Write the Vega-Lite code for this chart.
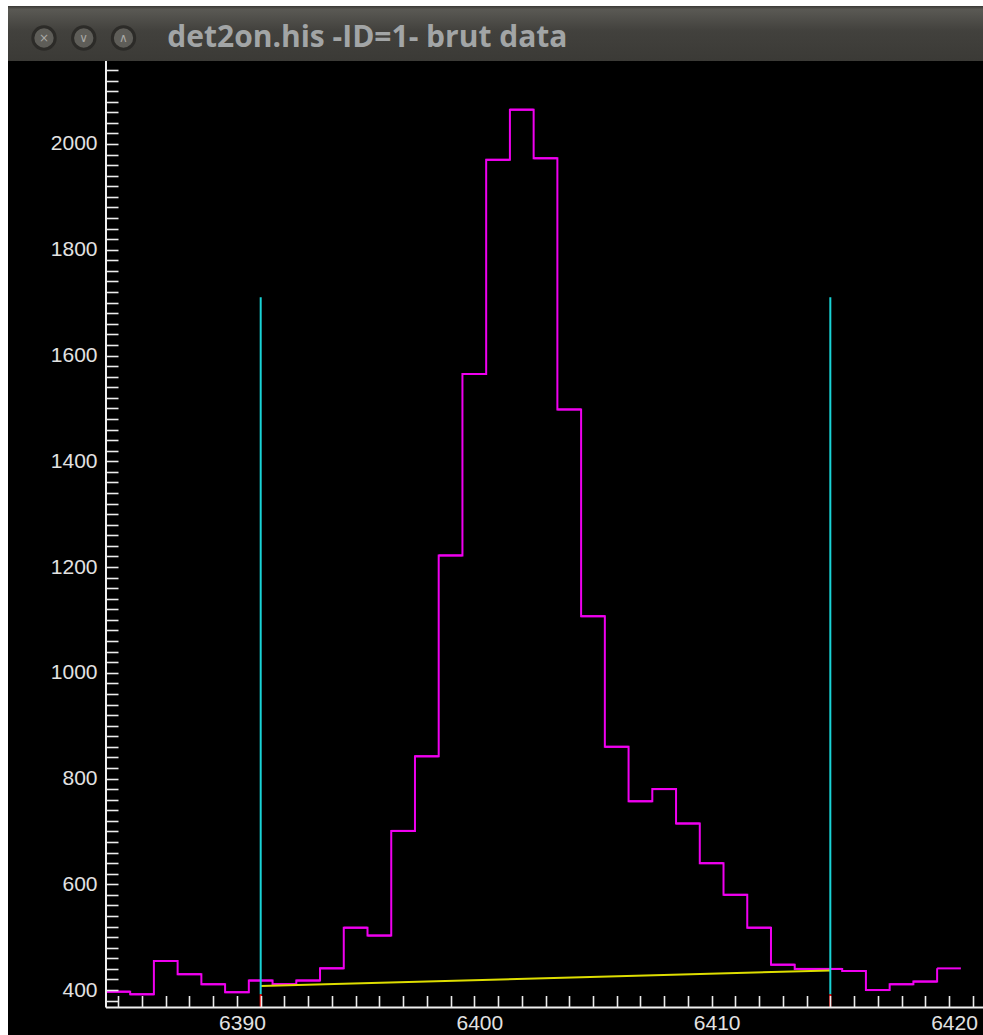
{
  "$schema": "https://vega.github.io/schema/vega-lite/v6.json",
  "background": "white",
  "padding": {"left": 8, "top": 6, "right": 0, "bottom": 0},
  "spacing": 0,
  "bounds": "flush",
  "config": {"view": {"stroke": null}, "concat": {"spacing": 0}},
  "datasets": {
    "hist": [
      {"lo": 6384.5, "hi": 6385.5, "counts": 397},
      {"lo": 6385.5, "hi": 6386.5, "counts": 392},
      {"lo": 6386.5, "hi": 6387.5, "counts": 455},
      {"lo": 6387.5, "hi": 6388.5, "counts": 430},
      {"lo": 6388.5, "hi": 6389.5, "counts": 411},
      {"lo": 6389.5, "hi": 6390.5, "counts": 396},
      {"lo": 6390.5, "hi": 6391.5, "counts": 418},
      {"lo": 6391.5, "hi": 6392.5, "counts": 411},
      {"lo": 6392.5, "hi": 6393.5, "counts": 418},
      {"lo": 6393.5, "hi": 6394.5, "counts": 441},
      {"lo": 6394.5, "hi": 6395.5, "counts": 518},
      {"lo": 6395.5, "hi": 6396.5, "counts": 503},
      {"lo": 6396.5, "hi": 6397.5, "counts": 701},
      {"lo": 6397.5, "hi": 6398.5, "counts": 842},
      {"lo": 6398.5, "hi": 6399.5, "counts": 1222},
      {"lo": 6399.5, "hi": 6400.5, "counts": 1565},
      {"lo": 6400.5, "hi": 6401.5, "counts": 1970},
      {"lo": 6401.5, "hi": 6402.5, "counts": 2065},
      {"lo": 6402.5, "hi": 6403.5, "counts": 1973},
      {"lo": 6403.5, "hi": 6404.5, "counts": 1498},
      {"lo": 6404.5, "hi": 6405.5, "counts": 1107},
      {"lo": 6405.5, "hi": 6406.5, "counts": 860},
      {"lo": 6406.5, "hi": 6407.5, "counts": 757},
      {"lo": 6407.5, "hi": 6408.5, "counts": 780},
      {"lo": 6408.5, "hi": 6409.5, "counts": 715},
      {"lo": 6409.5, "hi": 6410.5, "counts": 640},
      {"lo": 6410.5, "hi": 6411.5, "counts": 580},
      {"lo": 6411.5, "hi": 6412.5, "counts": 518},
      {"lo": 6412.5, "hi": 6413.5, "counts": 448},
      {"lo": 6413.5, "hi": 6414.5, "counts": 440},
      {"lo": 6414.5, "hi": 6415.5, "counts": 440},
      {"lo": 6415.5, "hi": 6416.5, "counts": 436},
      {"lo": 6416.5, "hi": 6417.5, "counts": 400},
      {"lo": 6417.5, "hi": 6418.5, "counts": 411},
      {"lo": 6418.5, "hi": 6419.5, "counts": 416},
      {"lo": 6419.5, "hi": 6420.5, "counts": 441}
    ],
    "background": [
      {"ch": 6391, "bg": 407.6},
      {"ch": 6415, "bg": 437.2}
    ],
    "markers": [
      {"ch": 6391, "top": 1710, "foot": 392},
      {"ch": 6415, "top": 1710, "foot": 392}
    ],
    "titlebar": [
      {"item": "close", "glyph": "×"},
      {"item": "minimize", "glyph": "∨"},
      {"item": "maximize", "glyph": "∧"},
      {"item": "title", "glyph": "det2on.his -ID=1- brut data"}
    ]
  },
  "vconcat": [
    {
      "width": 975,
      "height": 55,
      "view": {"stroke": null},
      "layer": [
        {
          "data": {"values": [{"part": "titlebar"}]},
          "mark": {
            "type": "rect",
            "color": {
              "gradient": "linear",
              "x1": 0, "y1": 0, "x2": 0, "y2": 1,
              "stops": [
                {"offset": 0, "color": "#3a3935"},
                {"offset": 0.06, "color": "#5a5954"},
                {"offset": 0.45, "color": "#42413d"},
                {"offset": 1, "color": "#3b3a36"}
              ]
            }
          }
        },
        {
          "data": {"name": "titlebar"},
          "transform": [{"filter": "datum.item !== 'title'"}],
          "mark": {"type": "point", "shape": "circle", "filled": true, "size": 500, "fill": "#5e5d58", "stroke": "#2c2b28", "strokeWidth": 3, "opacity": 1},
          "encoding": {
            "x": {"field": "item", "type": "nominal", "scale": {"type": "point", "domain": ["close", "minimize", "maximize", "title"], "range": [36, 155.25], "padding": 0}, "axis": null},
            "y": {"datum": 23, "type": "quantitative", "scale": {"domain": [0, 55]}, "axis": null}
          }
        },
        {
          "data": {"name": "titlebar"},
          "transform": [{"filter": "datum.item !== 'title'"}],
          "mark": {"type": "text", "font": "DejaVu Sans", "fontSize": 12, "color": "#a8a8a4", "align": "center", "baseline": "middle"},
          "encoding": {
            "x": {"field": "item", "type": "nominal", "axis": null},
            "y": {"datum": 23, "type": "quantitative", "axis": null},
            "text": {"field": "glyph"}
          }
        },
        {
          "data": {"name": "titlebar"},
          "transform": [{"filter": "datum.item === 'title'"}],
          "mark": {"type": "text", "font": "Open Sans", "fontSize": 30, "fontWeight": "bold", "color": "#a2a5a6", "align": "left", "baseline": "middle", "dx": 4},
          "encoding": {
            "x": {"field": "item", "type": "nominal", "axis": null},
            "y": {"datum": 23, "type": "quantitative", "axis": null},
            "text": {"field": "glyph"}
          }
        }
      ]
    },
    {
      "width": 975,
      "height": 974,
      "view": {"fill": "black", "stroke": null},
      "layer": [
        {
          "data": {"name": "hist"},
          "mark": {"type": "line", "interpolate": "step-after", "color": "#f000f0", "strokeWidth": 2},
          "encoding": {
            "x": {
              "field": "lo", "type": "quantitative",
              "scale": {"domain": [6380.353, 6421.433], "nice": false, "zero": false},
              "axis": {
                "orient": "bottom", "offset": -27.5, "domain": false, "grid": false, "title": null,
                "values": [6385, 6386, 6387, 6388, 6389, 6390, 6391, 6392, 6393, 6394, 6395, 6396, 6397, 6398, 6399, 6400, 6401, 6402, 6403, 6404, 6405, 6406, 6407, 6408, 6409, 6410, 6411, 6412, 6413, 6414, 6415, 6416, 6417, 6418, 6419, 6420, 6421],
                "tickCount": 200,
                "format": "d",
                "labelExpr": "datum.value % 10 === 0 ? datum.label : ''",
                "tickSize": -12,
                "tickColor": "#ececec", "tickWidth": 1.6,
                "labelFont": "Liberation Sans", "labelFontSize": 21, "labelColor": "#e2e2e2",
                "labelPadding": 17, "labelOffset": 5, "labelBaseline": "top",
                "labelFlush": false, "labelOverlap": false, "labelBound": false,
                "zindex": 1,
                "encode": {"ticks": {"update": {"y2": {"signal": "datum.value % 10 === 0 ? -19 : -12"}}}}
              }
            },
            "y": {
              "field": "counts", "type": "quantitative",
              "scale": {"domain": [315, 2156.96], "nice": false, "zero": false},
              "axis": {
                "orient": "left", "offset": -98, "domain": false, "grid": false, "title": null,
                "values": [380, 400, 420, 440, 460, 480, 500, 520, 540, 560, 580, 600, 620, 640, 660, 680, 700, 720, 740, 760, 780, 800, 820, 840, 860, 880, 900, 920, 940, 960, 980, 1000, 1020, 1040, 1060, 1080, 1100, 1120, 1140, 1160, 1180, 1200, 1220, 1240, 1260, 1280, 1300, 1320, 1340, 1360, 1380, 1400, 1420, 1440, 1460, 1480, 1500, 1520, 1540, 1560, 1580, 1600, 1620, 1640, 1660, 1680, 1700, 1720, 1740, 1760, 1780, 1800, 1820, 1840, 1860, 1880, 1900, 1920, 1940, 1960, 1980, 2000, 2020, 2040, 2060, 2080, 2100, 2120, 2140],
                "tickCount": 200,
                "format": "d",
                "labelExpr": "datum.value % 200 === 0 ? datum.label : ''",
                "tickSize": -12,
                "tickColor": "#ececec", "tickWidth": 1.6,
                "labelFont": "Liberation Sans", "labelFontSize": 21, "labelColor": "#e2e2e2",
                "labelPadding": 21, "labelAlign": "right", "labelBaseline": "middle",
                "labelFlush": false, "labelOverlap": false, "labelBound": false,
                "zindex": 1,
                "encode": {"ticks": {"update": {"x2": {"signal": "datum.value % 200 === 0 ? 20 : 12"}}}}
              }
            }
          }
        },
        {
          "data": {"name": "hist"},
          "mark": {"type": "rule", "color": "#f000f0", "strokeWidth": 2},
          "encoding": {
            "x": {"field": "lo", "type": "quantitative", "axis": {"title": null}},
            "x2": {"field": "hi"},
            "y": {"field": "counts", "type": "quantitative", "axis": {"title": null}}
          }
        },
        {
          "data": {"name": "background"},
          "mark": {"type": "line", "color": "#dede00", "strokeWidth": 2},
          "encoding": {
            "x": {"field": "ch", "type": "quantitative", "axis": {"title": null}},
            "y": {"field": "bg", "type": "quantitative", "axis": {"title": null}}
          }
        },
        {
          "data": {"name": "markers"},
          "mark": {"type": "rule", "color": "#19d3d6", "strokeWidth": 2},
          "encoding": {
            "x": {"field": "ch", "type": "quantitative", "axis": {"title": null}},
            "y": {"field": "top", "type": "quantitative", "axis": {"title": null}},
            "y2": {"field": "foot"}
          }
        },
        {
          "data": {"name": "markers"},
          "mark": {"type": "rule", "color": "#ff1010", "strokeWidth": 2},
          "encoding": {
            "x": {"field": "ch", "type": "quantitative", "axis": {"title": null}},
            "y": {"field": "foot", "type": "quantitative", "axis": {"title": null}},
            "y2": {"datum": 367}
          }
        },
        {
          "data": {"values": [{"frame": "axes"}]},
          "layer": [
            {
              "mark": {"type": "rule", "color": "#efefef", "strokeWidth": 2},
              "encoding": {
                "x": {"datum": 6384.482, "type": "quantitative", "axis": {"title": null}},
                "y": {"datum": 367, "type": "quantitative", "axis": {"title": null}},
                "y2": {"datum": 2156.96}
              }
            },
            {
              "mark": {"type": "rule", "color": "#efefef", "strokeWidth": 2},
              "encoding": {
                "x": {"datum": 6384.482, "type": "quantitative", "axis": {"title": null}},
                "x2": {"datum": 6421.433},
                "y": {"datum": 367, "type": "quantitative", "axis": {"title": null}}
              }
            }
          ]
        }
      ]
    }
  ]
}
